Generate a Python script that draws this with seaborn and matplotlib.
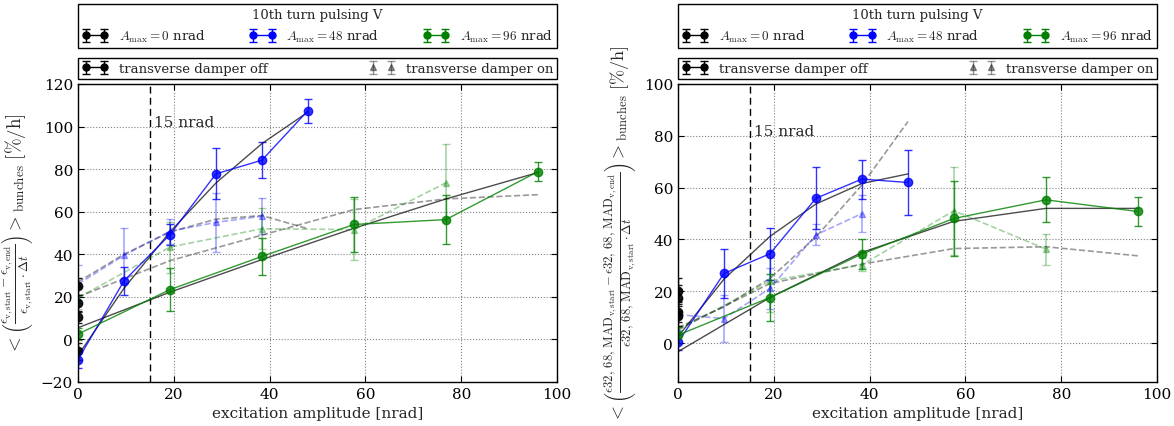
import numpy as np
import matplotlib
matplotlib.use("Agg")
import matplotlib.pyplot as plt
import seaborn as sns

# ---------------- data ----------------
x48 = [0, 9.6, 19.2, 28.8, 38.4, 48]
x96 = [0, 19.2, 38.4, 57.6, 76.8, 96]
x48_on = [0, 9.6, 19.2, 28.8, 38.4]
x96_on = [0, 19.2, 38.4, 57.6, 76.8]
x0 = [0, 0, 0, 0]

# left panel: epsilon growth
L_black_off = [25, 17, 10.5, -5.5]
L_black_off_err = [4, 4, 3, 4]
L_blue_off = [-9.5, 27.5, 49.2, 77.8, 84.2, 107.5]
L_blue_off_err = [4, 6.5, 5, 12, 8.5, 5.6]
L_green_off = [2.5, 23.4, 39, 54, 56.3, 78.8]
L_green_off_err = [3, 10, 8.5, 13, 11.7, 4.6]
L_blue_on = [26, 39.5, 50.8, 55, 57.9]
L_blue_on_err = [9, 13, 6, 14, 8.5]
L_green_on = [19.5, 43.4, 52, 51.6, 73.6]
L_green_on_err = [5, 12, 9.6, 14.5, 18]
L_fit_blue_off = [-7.5, 24, 50.5, 73.5, 92, 106.8]
L_fit_green_off = [5.5, 22.2, 37.5, 52.2, 66, 78.4]
L_fit_blue_on = [27, 40, 50.5, 56.5, 58.2, 52]
L_fit_green_on = [20, 37, 49, 61, 66, 68]

# right panel: MAD emittance growth
R_black_off = [20, 17.5, 12, 10.5]
R_black_off_err = [5, 5, 4, 4]
R_blue_off = [0.3, 26.9, 34.5, 55.9, 63.3, 62]
R_blue_off_err = [3, 9.5, 10, 12, 7.5, 12.5]
R_green_off = [3.1, 17.6, 34.4, 48.1, 55.3, 50.8]
R_green_off_err = [3, 9.2, 5.7, 14.5, 8.7, 5.6]
R_blue_on = [11, 9.5, 21.1, 41.8, 50]
R_blue_on_err = [6, 9, 8, 4, 7]
R_green_on = [5, 24, 30.2, 51.1, 36.3]
R_green_on_err = [5, 12, 2.5, 17, 6]
R_fit_blue_off = [2.5, 24.7, 41.2, 53.7, 61.6, 65.3]
R_fit_green_off = [-3.3, 17.6, 35, 47, 52, 52]
R_fit_blue_on = [6, 14, 25, 41, 61, 85.5]
R_fit_green_on = [5.4, 23, 30.5, 36.5, 37.2, 33.7]

legend_labels = [r"$A_\mathrm{max} = 0$ nrad", r"$A_\mathrm{max} = 48$ nrad",
                 r"$A_\mathrm{max} = 96$ nrad"]
legend_title = "10th turn pulsing V"
damper_labels = ["transverse damper off", "transverse damper on"]
xlabel = "excitation amplitude [nrad]"
ylabel_L = (r"$<\left(\frac{\epsilon_\mathrm{v,start}-\epsilon_\mathrm{v,end}}"
            r"{\epsilon_\mathrm{v,start}\cdot\Delta t}\right)>_\mathrm{bunches}\ [\%/\mathrm{h}]$")
ylabel_R = (r"$<\left(\frac{\epsilon32,\,68,\,\mathrm{MAD}_\mathrm{v,start}-\epsilon32,\,68,\,\mathrm{MAD}_\mathrm{v,end}}"
            r"{\epsilon32,\,68,\,\mathrm{MAD}_\mathrm{v,start}\cdot\Delta t}\right)>_\mathrm{bunches}\ [\%/\mathrm{h}]$")

# ---------------- style ----------------
sns.set_style("ticks")
plt.rcParams.update({
    "font.family": ["DejaVu Serif"],
    "mathtext.fontset": "cm",
    "font.size": 11,
    "xtick.direction": "in", "ytick.direction": "in",
    "xtick.top": True, "ytick.right": True,
    "xtick.color": "k", "ytick.color": "k",
    "axes.edgecolor": "k", "axes.linewidth": 1.0,
    "xtick.major.size": 4, "ytick.major.size": 4,
    "legend.numpoints": 2,
})

BLUE = "#0000ff"
GREEN = "#008000"
LEGFS = 9.5

fig = plt.figure(figsize=(11.74, 4.27), dpi=100)
axL = fig.add_axes([78 / 1174, (427 - 383) / 427, 479 / 1174, 298 / 427])
axR = fig.add_axes([678 / 1174, (427 - 383) / 427, 479 / 1174, 298 / 427])


def panel(ax, black_off, black_off_err, blue_off, blue_off_err, green_off, green_off_err,
          blue_on, blue_on_err, green_on, green_on_err,
          fit_bo, fit_go, fit_bn, fit_gn, ylim, ylabel, ylabel_fs, ytext):
    ax.grid(True, ls=":", color="0.5", lw=0.8)
    ax.axvline(15, color="k", ls="--", lw=1, dashes=(5, 3))
    ax.text(15.8, ytext, "15 nrad", ha="left", va="center", fontsize=11)

    # damper on (dashed, translucent)
    ax.errorbar(x48_on, blue_on, yerr=blue_on_err, fmt="--^", color=BLUE, alpha=0.35,
                ms=5, capsize=3, lw=1.2)
    ax.errorbar(x96_on, green_on, yerr=green_on_err, fmt="--^", color=GREEN, alpha=0.35,
                ms=5, capsize=3, lw=1.2)
    sns.lineplot(x=x48, y=fit_bn, ax=ax, color="k", alpha=0.4, lw=1.2, ls="--",
                 estimator=None, sort=False, legend=False)
    sns.lineplot(x=x96, y=fit_gn, ax=ax, color="k", alpha=0.4, lw=1.2, ls="--",
                 estimator=None, sort=False, legend=False)

    # damper off (solid)
    ax.errorbar(x0, black_off, yerr=black_off_err, fmt="o", color="k", ms=6,
                capsize=3, lw=1, alpha=0.9)
    ax.errorbar(x48, blue_off, yerr=blue_off_err, fmt="-o", color=BLUE, ms=6,
                capsize=3, lw=1, alpha=0.8)
    ax.errorbar(x96, green_off, yerr=green_off_err, fmt="-o", color=GREEN, ms=6,
                capsize=3, lw=1, alpha=0.8)
    sns.lineplot(x=x48, y=fit_bo, ax=ax, color="k", alpha=0.7, lw=1,
                 estimator=None, sort=False, legend=False)
    sns.lineplot(x=x96, y=fit_go, ax=ax, color="k", alpha=0.7, lw=1,
                 estimator=None, sort=False, legend=False)

    # legend proxies
    p0 = ax.errorbar([np.nan], [np.nan], yerr=[np.nan], fmt="-o", color="k", ms=5,
                     capsize=3, lw=1)
    p48 = ax.errorbar([np.nan], [np.nan], yerr=[np.nan], fmt="-o", color=BLUE, ms=5,
                      capsize=3, lw=1)
    p96 = ax.errorbar([np.nan], [np.nan], yerr=[np.nan], fmt="-o", color=GREEN, ms=5,
                      capsize=3, lw=1)
    pon = ax.errorbar([np.nan], [np.nan], yerr=[np.nan], fmt="^", color="k", alpha=0.4,
                      ms=4, capsize=3, lw=1)

    ax.set_xlim(0, 100)
    ax.set_ylim(*ylim)
    ax.set_xticks([0, 20, 40, 60, 80, 100])
    ax.set_xlabel(xlabel, fontsize=11)
    ax.set_ylabel(ylabel, fontsize=ylabel_fs)
    ax.tick_params(labelsize=11)

    leg1 = ax.legend([p0, p48, p96], legend_labels, title=legend_title, ncol=3,
                     mode="expand", loc="lower left",
                     bbox_to_anchor=(0, 1.121, 1, 0.15), borderaxespad=0,
                     fancybox=False, edgecolor="k", framealpha=1, fontsize=LEGFS,
                     title_fontsize=LEGFS, handlelength=2, borderpad=0.3,
                     handletextpad=0.8)
    leg1.get_frame().set_linewidth(1)
    ax.add_artist(leg1)
    leg2 = ax.legend([p0, pon], damper_labels, ncol=2, mode="expand", loc="lower left",
                     bbox_to_anchor=(0, 1.017, 1, 0.07), borderaxespad=0,
                     fancybox=False, edgecolor="k", framealpha=1, fontsize=LEGFS,
                     handlelength=2, borderpad=0.3, handletextpad=0.8)
    leg2.get_frame().set_linewidth(1)


panel(axL, L_black_off, L_black_off_err, L_blue_off, L_blue_off_err, L_green_off,
      L_green_off_err, L_blue_on, L_blue_on_err, L_green_on, L_green_on_err,
      L_fit_blue_off, L_fit_green_off, L_fit_blue_on, L_fit_green_on,
      (-20, 120), ylabel_L, 13.5, 102)
panel(axR, R_black_off, R_black_off_err, R_blue_off, R_blue_off_err, R_green_off,
      R_green_off_err, R_blue_on, R_blue_on_err, R_green_on, R_green_on_err,
      R_fit_blue_off, R_fit_green_off, R_fit_blue_on, R_fit_green_on,
      (-15, 100), ylabel_R, 13, 82)
axR.set_yticks([0, 20, 40, 60, 80, 100])

fig.savefig("out.png", dpi=100)
